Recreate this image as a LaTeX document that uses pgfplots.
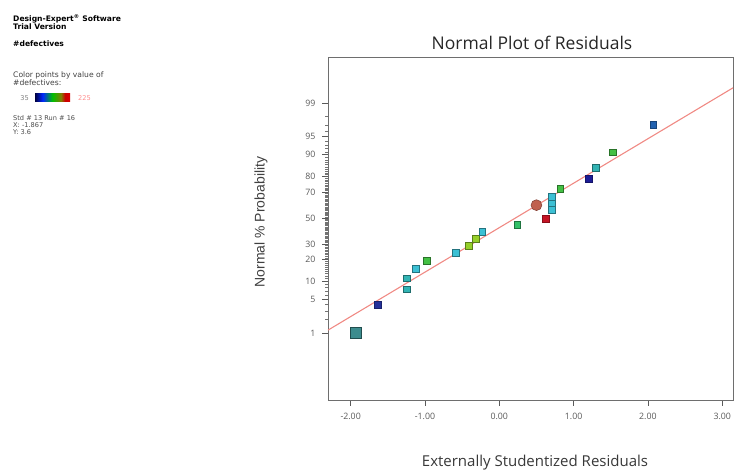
\documentclass[border=0pt]{standalone}
\usepackage{pgfplots}
\pgfplotsset{compat=1.18}
\usepackage{fontspec}
\setmainfont{Liberation Sans}
\newfontfamily\panelfont{DejaVu Sans}
\newfontfamily\uifont{Open Sans}

% point colours (coloured by #defectives)
\definecolor{cBig}{HTML}{3C8C8E}
\definecolor{cNavy}{HTML}{24309A}
\definecolor{cDeep}{HTML}{1C1C96}
\definecolor{cTeal}{HTML}{32B4B4}
\definecolor{cCyan}{HTML}{3CC0D4}
\definecolor{cGreen}{HTML}{44C044}
\definecolor{cLime}{HTML}{96D02A}
\definecolor{cSea}{HTML}{34C068}
\definecolor{cRed}{HTML}{C41424}
\definecolor{cCirc}{HTML}{C0604E}
\definecolor{cBlue}{HTML}{2262B0}
\definecolor{cLine}{HTML}{F08A84}
\definecolor{cAxis}{HTML}{6E6E6E}
\definecolor{cTick}{HTML}{5A5A5A}

% colour key for #defectives (the path maps onto 25bp..75bp)
\pgfdeclarehorizontalshading{defbar}{100bp}{%
  color(0bp)=(black!75!blue); color(25bp)=(black!75!blue);
  color(36bp)=(blue!85!cyan); color(50bp)=(green!75!black);
  color(62bp)=(green!50!red); color(68bp)=(red!80!black);
  color(75bp)=(red!85!black); color(100bp)=(red!85!black)}

% normal residual quantiles: x = externally studentized residual, y = normal score
\pgfplotstableread{
x      y      c
-1.93  -2.32  big
-1.64  -1.76  navy
-1.25  -1.44  teal
-1.25  -1.22  teal
-1.13  -1.03  cyan
-0.98  -0.86  green
-0.59  -0.71  cyan
-0.41  -0.56  lime
-0.32  -0.42  lime
-0.23  -0.28  cyan
 0.24  -0.14  sea
 0.50   0.26  circ
 0.62  -0.01  red
 0.70   0.16  cyan
 0.70   0.30  cyan
 0.70   0.43  cyan
 0.82   0.60  green
 1.20   0.79  deep
 1.30   1.02  teal
 1.53   1.33  green
 2.07   1.89  blue
}\residuals

\begin{document}
\begin{tikzpicture}[x=1pt,y=1pt]
\useasboundingbox (0,0) rectangle (734,474);

% side panel
\begin{scope}[pf/.style={font=\panelfont\fontsize{7.6}{8}\selectfont},
              ps/.style={font=\panelfont\fontsize{6.6}{7}\selectfont}]
\node[pf,anchor=west,inner sep=0] at (13,455) {\bfseries Design-Expert\textsuperscript{\textregistered} Software};
\node[pf,anchor=west,inner sep=0] at (13,447) {\bfseries Trial Version};
\node[pf,anchor=west,inner sep=0] at (13,430) {\bfseries \#defectives};
\node[pf,anchor=west,inner sep=0,text=black!75] at (13,399) {Color points by value of};
\node[pf,anchor=west,inner sep=0,text=black!75] at (13,391) {\#defectives:};
\node[ps,anchor=east,inner sep=0,text=black!50] at (29,376) {35};
\shade[shading=defbar] (35,372) rectangle (70,380);
\node[ps,anchor=west,inner sep=0,text=red!45] at (78,376) {225};
\node[ps,anchor=west,inner sep=0,text=black!70] at (13,356) {Std \# 13 Run \# 16};
\node[ps,anchor=west,inner sep=0,text=black!70] at (13,349) {X: -1.867};
\node[ps,anchor=west,inner sep=0,text=black!70] at (13,342) {Y: 3.6};
\end{scope}

% titles
\node[font=\uifont\fontsize{17.5}{19}\selectfont,text=black!85] at (532,431) {Normal Plot of Residuals};
\node[font=\uifont\fontsize{15}{17}\selectfont,text=black!78] at (535,11) {Externally Studentized Residuals};
\node[font=\fontsize{14}{16}\selectfont,text=black!75,rotate=90] at (261,252) {Normal \% Probability};

\begin{axis}[
  at={(328pt,74pt)}, anchor=south west,
  width=405pt, height=343pt, scale only axis,
  xmin=-2.305, xmax=3.145, ymin=-3.684, ymax=3.259,
  axis line style={draw=black!40},
  every outer x axis line/.append style={draw=cAxis},
  every outer y axis line/.append style={draw=cAxis},
  tick align=outside,
  xtick={-2,-1,0,1,2,3},
  xticklabels={-2.00,-1.00,0.00,1.00,2.00,3.00},
  ytick={-2.326,-1.645,-1.2816,-0.8416,-0.5244,0,0.5244,0.8416,1.2816,1.645,2.326},
  yticklabels={1,5,10,20,30,50,70,80,90,95,99},
  minor ytick={-2.054,-1.881,-1.751,-1.555,-1.476,-1.405,-1.341,
    -1.2265,-1.1750,-1.1264,-1.0803,-1.0364,-0.9945,-0.9542,-0.9154,-0.8779,
    -0.8064,-0.7722,-0.7388,-0.7063,-0.6745,-0.6433,-0.6128,-0.5828,-0.5534,
    -0.4959,-0.4677,-0.4399,-0.4125,-0.3853,-0.3585,-0.3319,-0.3055,-0.2793,
    -0.2533,-0.2275,-0.2019,-0.1764,-0.1510,-0.1257,-0.1004,-0.0753,-0.0502,-0.0251,
    0.0251,0.0502,0.0753,0.1004,0.1257,0.1510,0.1764,0.2019,0.2275,0.2533,
    0.2793,0.3055,0.3319,0.3585,0.3853,0.4125,0.4399,0.4677,0.4959,
    0.5534,0.5828,0.6128,0.6433,0.6745,0.7063,0.7388,0.7722,0.8064,
    0.8779,0.9154,0.9542,0.9945,1.0364,1.0803,1.1264,1.1750,1.2265,
    1.341,1.405,1.476,1.555,1.751,1.881,2.054},
  xtick pos=bottom, ytick pos=left,
  major tick length=6pt, minor tick length=3pt,
  every tick/.style={draw=cTick, line width=0.5pt},
  every minor tick/.style={draw=black!55, line width=0.35pt},
  tick label style={font=\uifont\fontsize{8.8}{10}\selectfont, text=black!65},
  xticklabel style={yshift=-4pt},
  yticklabel style={xshift=-3pt},
  clip=false,
]
\addplot[cLine, line width=1.1pt, forget plot] coordinates {(-2.305,-2.27) (3.145,2.635)};

\addplot[
  scatter, only marks, scatter src=explicit symbolic,
  scatter/classes={
    big={mark=square*, mark size=5.2pt, fill=cBig, draw=cBig!55!black, line width=0.6pt},
    navy={mark=square*, mark size=3.4pt, fill=cNavy, draw=cNavy!70!black},
    deep={mark=square*, mark size=3.4pt, fill=cDeep, draw=cDeep!70!black},
    teal={mark=square*, mark size=3.4pt, fill=cTeal, draw=cTeal!60!black},
    cyan={mark=square*, mark size=3.4pt, fill=cCyan, draw=cCyan!60!black},
    green={mark=square*, mark size=3.4pt, fill=cGreen, draw=cGreen!60!black},
    lime={mark=square*, mark size=3.4pt, fill=cLime, draw=cLime!60!black},
    sea={mark=square*, mark size=3.4pt, fill=cSea, draw=cSea!60!black},
    red={mark=square*, mark size=3.4pt, fill=cRed, draw=cRed!70!black},
    circ={mark=*, mark size=5.4pt, fill=cCirc, draw=cCirc!70!black, line width=0.6pt},
    blue={mark=square*, mark size=3.4pt, fill=cBlue, draw=cBlue!70!black}
  },
] table[x=x, y=y, meta=c] {\residuals};
\end{axis}
\end{tikzpicture}
\end{document}
